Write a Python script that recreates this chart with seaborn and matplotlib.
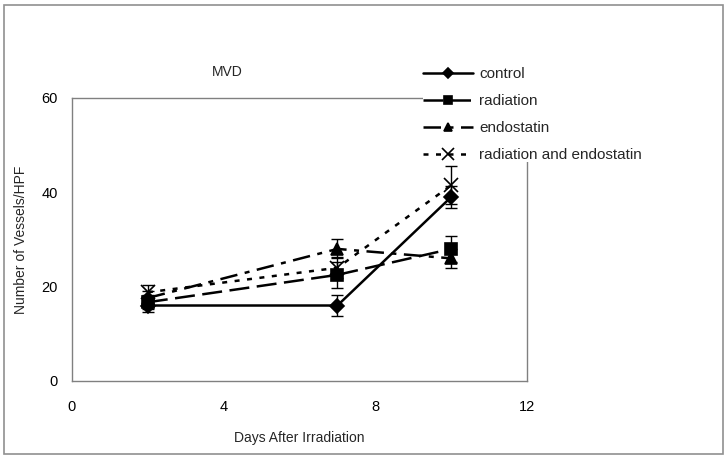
import matplotlib
matplotlib.use("Agg")
import matplotlib.pyplot as plt
import seaborn as sns
import pandas as pd
from matplotlib.patches import Rectangle

# MVD over days after irradiation, four treatment groups
days = [2, 7, 10]
control = [16, 16, 39]
radiation = [16.7, 22.5, 28]
endostatin = [17.6, 28, 26]
rad_endo = [18.8, 24, 41.5]
control_err = [1.4, 2.3, 2.4]
radiation_err = [1.5, 2.8, 2.8]
endostatin_err = [1.5, 2.0, 2.0]
rad_endo_err = [1.6, 2.2, 4.0]

groups = ["control", "radiation", "endostatin", "radiation and endostatin"]
values = [control, radiation, endostatin, rad_endo]
errors = [control_err, radiation_err, endostatin_err, rad_endo_err]

markers = ["D", "s", "^", "x"]
msizes = [7, 8, 8, 10]
dashes = [(None, None), (8, 3), (7, 3, 2, 3), (2, 3)]

sns.set_style("white")
plt.rcParams["font.family"] = ["Liberation Sans", "DejaVu Sans"]
plt.rcParams["font.size"] = 10

fig = plt.figure(figsize=(7.28, 4.59), dpi=100)
ax = fig.add_axes([0.0989, 0.170, 0.625, 0.6165])

for name, vals, errs, m, ms, d in zip(groups, values, errors, markers, msizes, dashes):
    df = pd.DataFrame({"day": days, "mvd": vals})
    ax.errorbar(days, vals, yerr=errs, fmt="none", ecolor="black",
                elinewidth=1, capsize=4, capthick=1, zorder=2)
    sns.lineplot(data=df, x="day", y="mvd", color="black", linewidth=1.8,
                 marker=m, markersize=ms, markeredgecolor="black",
                 markerfacecolor="black", markeredgewidth=1.2,
                 label=name, ax=ax, zorder=3)
    ln = ax.lines[-1]
    if d[0] is not None:
        ln.set_dashes(d)

ax.set_xlim(0, 12)
ax.set_ylim(0, 60)
ax.set_xticks([0, 4, 8, 12])
ax.set_yticks([0, 20, 40, 60])
ax.tick_params(direction="in", length=5, width=0.8, colors="#777777",
               labelcolor="black", labelsize=10.5, pad=14)
ax.tick_params(axis="y", pad=10)
for s in ax.spines.values():
    s.set_color("#808080")
    s.set_linewidth(1)

ax.set_xlabel("Days After Irradiation", fontsize=10, labelpad=12)
ax.set_ylabel("Number of Vessels/HPF", fontsize=10, labelpad=10)
fig.text(0.312, 0.843, "MVD", fontsize=10, ha="center", va="center")

leg = ax.legend(loc="upper left", bbox_to_anchor=(0.581, 0.853),
                bbox_transform=fig.transFigure, frameon=True,
                facecolor="white", edgecolor="none", framealpha=1,
                fancybox=False, borderpad=0.0, markerscale=0.8,
                handlelength=3.3, fontsize=11, labelspacing=0.85,
                handletextpad=0.4, borderaxespad=0)
leg.set_zorder(10)

fig.patches.append(Rectangle((0.006, 0.011), 0.987, 0.979, transform=fig.transFigure,
                             fill=False, edgecolor="#909090", linewidth=1.2))

fig.savefig("out.png", dpi=100)
